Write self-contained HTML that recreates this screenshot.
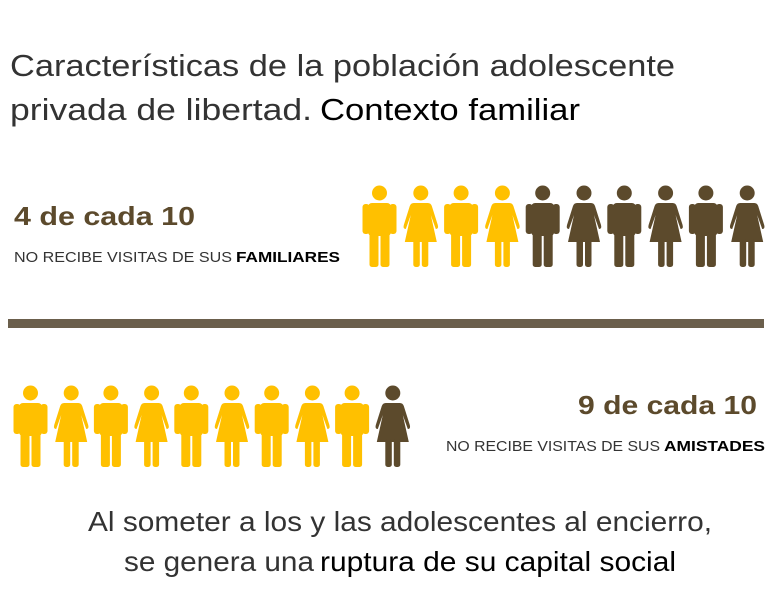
<!DOCTYPE html>
<html><head><meta charset="utf-8"><style>html,body{margin:0;padding:0;background:#fff}svg{display:block}</style></head>
<body>
<svg width="770" height="612" viewBox="0 0 770 612" xmlns="http://www.w3.org/2000/svg" font-family="'Liberation Sans', sans-serif">
<defs>
<g id="man">
<circle cx="17.5" cy="8" r="7.5"/>
<rect x="6" y="18" width="23" height="33" rx="4"/>
<rect x="0.5" y="19" width="7" height="30" rx="3"/>
<rect x="27.5" y="19" width="7" height="30" rx="3"/>
<rect x="7.5" y="45" width="9" height="37" rx="2.5"/>
<rect x="18.5" y="45" width="9" height="37" rx="2.5"/>
</g>
<g id="woman">
<circle cx="18" cy="8" r="7.5"/>
<path d="M11 18 H25 Q28 18 29 21 L35 40 Q36 44 33 44 L28 30 L34 57 H2 L8 30 L3 44 Q0 44 1 40 L7 21 Q8 18 11 18 Z"/>
<rect x="10.5" y="54" width="6.5" height="28" rx="2.5"/>
<rect x="19" y="54" width="6.5" height="28" rx="2.5"/>
</g>
</defs>
<text x="10" y="76" font-size="31" fill="#333" textLength="665" lengthAdjust="spacingAndGlyphs">Características de la población adolescente</text>
<text x="10" y="120" font-size="31" fill="#333" textLength="302" lengthAdjust="spacingAndGlyphs">privada de libertad.</text>
<text x="320" y="120" font-size="31" fill="#000" textLength="260" lengthAdjust="spacingAndGlyphs">Contexto familiar</text>

<text x="14" y="225" font-size="26" font-weight="bold" fill="#5c4a2c" textLength="181" lengthAdjust="spacingAndGlyphs">4 de cada 10</text>
<text x="14" y="262" font-size="15" fill="#333" textLength="218" lengthAdjust="spacingAndGlyphs">NO RECIBE VISITAS DE SUS</text>
<text x="236" y="262" font-size="15" font-weight="bold" fill="#000" textLength="104" lengthAdjust="spacingAndGlyphs">FAMILIARES</text>

<g fill="#ffc000">
<use href="#man" x="362" y="185"/><use href="#woman" x="402.8" y="185"/><use href="#man" x="443.6" y="185"/><use href="#woman" x="484.4" y="185"/>
</g>
<g fill="#5c4a2c">
<use href="#man" x="525.2" y="185"/><use href="#woman" x="566" y="185"/><use href="#man" x="606.8" y="185"/><use href="#woman" x="647.6" y="185"/><use href="#man" x="688.4" y="185"/><use href="#woman" x="729.2" y="185"/>
</g>

<rect x="8" y="319" width="756" height="9" fill="#6b5f4c"/>

<g fill="#ffc000">
<use href="#man" x="13" y="385"/><use href="#woman" x="53.2" y="385"/><use href="#man" x="93.4" y="385"/><use href="#woman" x="133.6" y="385"/><use href="#man" x="173.8" y="385"/><use href="#woman" x="214" y="385"/><use href="#man" x="254.2" y="385"/><use href="#woman" x="294.4" y="385"/><use href="#man" x="334.6" y="385"/>
</g>
<use href="#woman" x="374.8" y="385" fill="#5c4a2c"/>

<text x="578" y="414" font-size="26" font-weight="bold" fill="#5c4a2c" textLength="179" lengthAdjust="spacingAndGlyphs">9 de cada 10</text>
<text x="446" y="451" font-size="15" fill="#333" textLength="214" lengthAdjust="spacingAndGlyphs">NO RECIBE VISITAS DE SUS</text>
<text x="664" y="451" font-size="15" font-weight="bold" fill="#000" textLength="101" lengthAdjust="spacingAndGlyphs">AMISTADES</text>

<text x="88" y="531" font-size="28" fill="#333" textLength="624" lengthAdjust="spacingAndGlyphs">Al someter a los y las adolescentes al encierro,</text>
<text x="124" y="571" font-size="28" fill="#333" textLength="190" lengthAdjust="spacingAndGlyphs">se genera una</text>
<text x="320" y="571" font-size="28" fill="#000" textLength="356" lengthAdjust="spacingAndGlyphs">ruptura de su capital social</text>
</svg>
</body></html>
